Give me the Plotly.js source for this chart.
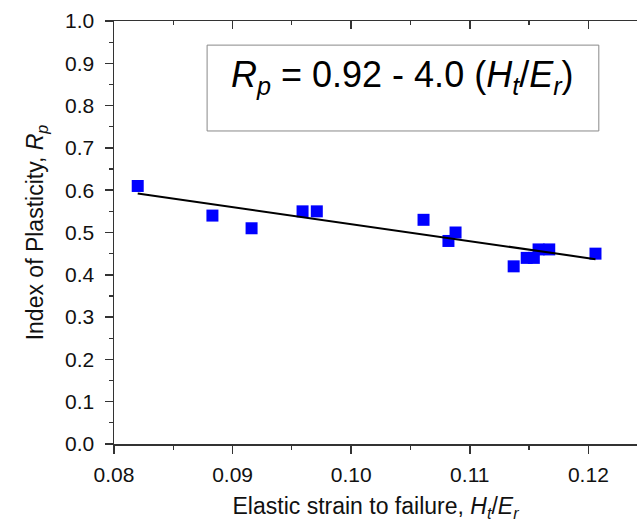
<!DOCTYPE html>
<html>
<head>
<meta charset="utf-8">
<script src="https://cdn.plot.ly/plotly-3.0.1.min.js"></script>
<style>html,body{margin:0;padding:0;background:#fff;}#chart{width:637px;height:527px;}</style>
</head>
<body>
<div id="chart"></div>
<script>
// Measured data: elastic strain to failure (Ht/Er) vs index of plasticity (Rp)
const strainX = [0.0820, 0.0883, 0.0916, 0.0959, 0.0971, 0.1061, 0.1082, 0.1088, 0.1137, 0.1148, 0.1154, 0.1158, 0.1167, 0.1206];
const plasticityY = [0.61, 0.54, 0.51, 0.55, 0.55, 0.53, 0.48, 0.50, 0.42, 0.44, 0.44, 0.46, 0.46, 0.45];
// Fitted line end points (Rp = 0.92 - 4.0 Ht/Er)
const fitX = [0.0820, 0.1206];
const fitY = [0.592, 0.437];
const equationText = "<i>R<sub>p</sub></i> = 0.92 - 4.0 (<i>H<sub>t</sub></i>/<i>E<sub>r</sub></i>)";
const xTitle = "Elastic strain to failure, <i>H<sub>t</sub></i>/<i>E<sub>r</sub></i>";
const yTitle = "Index of Plasticity, <i>R<sub>p</sub></i>";

const font = "Liberation Sans, Arial, sans-serif";
const xRange = [0.08, 0.1241];

const traces = [
  {x: fitX, y: fitY, mode: 'lines', line: {color: '#000', width: 2}, xaxis: 'x2', yaxis: 'y', hoverinfo: 'skip'},
  {x: strainX, y: plasticityY, mode: 'markers', marker: {symbol: 'square', size: 12, color: '#0000ff'}}
];

const layout = {
  width: 637, height: 527,
  margin: {l: 114, r: 0, t: 21, b: 83},
  paper_bgcolor: '#fff', plot_bgcolor: '#fff',
  showlegend: false,
  font: {family: font, size: 21, color: '#111'},
  xaxis: {
    range: xRange, showgrid: false, zeroline: false,
    showline: true, linecolor: '#333', linewidth: 1.5,
    ticks: 'outside', ticklen: 8, tickwidth: 1.5, tickcolor: '#333',
    tick0: 0.08, dtick: 0.01, tickformat: '.2f', ticklabelstandoff: 3,
    minor: {ticks: 'outside', ticklen: 4, dtick: 0.005, tickwidth: 1.2, tickcolor: '#333'},
    tickfont: {size: 21},
    title: {text: xTitle, font: {size: 23}, standoff: 13}
  },
  xaxis2: {
    range: xRange, overlaying: 'x', side: 'top', anchor: 'y',
    showgrid: false, zeroline: false, showticklabels: false,
    showline: true, linecolor: '#333', linewidth: 1.5,
    ticks: 'inside', ticklen: 8, tickwidth: 1.5, tickcolor: '#333',
    tick0: 0.08, dtick: 0.01,
    minor: {ticks: 'inside', ticklen: 4, dtick: 0.005, tickwidth: 1.2, tickcolor: '#333'}
  },
  yaxis: {
    range: [0, 1.0], showgrid: false, zeroline: false,
    showline: true, linecolor: '#333', linewidth: 1.5,
    ticks: 'outside', ticklen: 8, tickwidth: 1.5, tickcolor: '#333',
    tick0: 0, dtick: 0.1, tickformat: '.1f', ticklabelstandoff: 6,
    minor: {ticks: 'outside', ticklen: 4, dtick: 0.05, tickwidth: 1.2, tickcolor: '#333'},
    tickfont: {size: 21},
    title: {text: yTitle, font: {size: 23}, standoff: 15}
  },
  shapes: [
    {type: 'rect', xref: 'paper', yref: 'paper', x0: 0.178, x1: 0.927, y0: 0.740, y1: 0.943,
     line: {color: '#888', width: 1}, fillcolor: 'rgba(0,0,0,0)'}
  ],
  annotations: [
    {xref: 'paper', yref: 'paper', x: 0.5525, y: 0.868, xanchor: 'center', yanchor: 'middle',
     text: equationText, showarrow: false, font: {size: 36, color: '#000', family: font}}
  ]
};

Plotly.newPlot('chart', traces, layout, {displayModeBar: false, staticPlot: true});
</script>
</body>
</html>
